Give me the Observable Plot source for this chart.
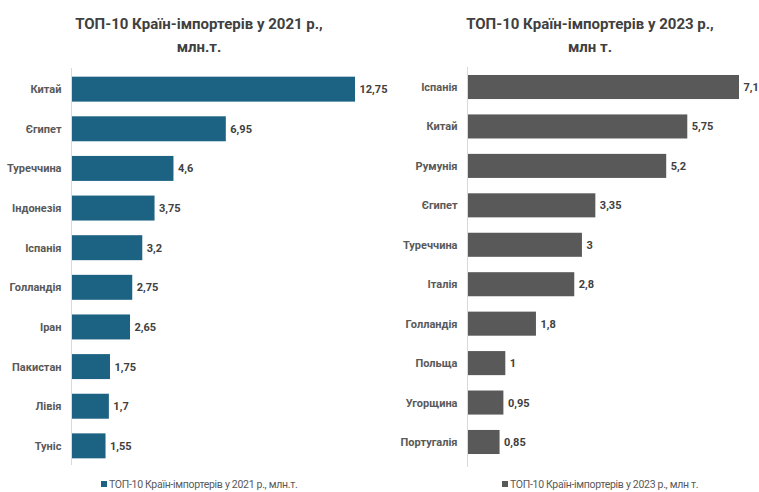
<!DOCTYPE html>
<html>
<head>
<meta charset="utf-8">
<script src="https://cdn.jsdelivr.net/npm/d3@7"></script>
<script src="https://cdn.jsdelivr.net/npm/@observablehq/plot@0.6"></script>
<style>
  body { margin: 0; background: #fff; font-family: Roboto, "Noto Sans", sans-serif; }
  #wrap { position: relative; width: 759px; height: 492px; overflow: hidden; background: #fff; }
  .title { position: absolute; text-align: center; font-weight: bold; font-size: 15px; color: #404040; line-height: 23px; letter-spacing: 0px; }
  .panel { position: absolute; line-height: 0; }
  .panel svg { overflow: visible; }
  .legend { position: absolute; font-size: 10.5px; color: #595959; letter-spacing: -0.3px; white-space: nowrap; }
  .legend .sw { display: inline-block; width: 6px; height: 6px; margin-right: 2px; vertical-align: 1px; }
</style>
</head>
<body>
<div id="wrap">
  <div class="title" style="left:9px; top:13px; width:380px;">ТОП-10 Країн-імпортерів у 2021 р.,<br>млн.т.</div>
  <div class="title" style="left:400px; top:13px; width:380px;">ТОП-10 Країн-імпортерів у 2023 р.,<br>млн т.</div>
  <div class="panel" id="left" style="left:0px; top:62px;"></div>
  <div class="panel" id="right" style="left:380px; top:62px;"></div>
  <div class="legend" style="left:101px; top:478px;"><span class="sw" style="background:#1c6283"></span>ТОП-10 Країн-імпортерів у 2021 р., млн.т.</div>
  <div class="legend" style="left:502px; top:478px;"><span class="sw" style="background:#595959"></span>ТОП-10 Країн-імпортерів у 2023 р., млн т.</div>
</div>
<script>
const countries2021 = ["Китай", "Єгипет", "Туреччина", "Індонезія", "Іспанія", "Голландія", "Іран", "Пакистан", "Лівія", "Туніс"];
const values2021 = [12.75, 6.95, 4.6, 3.75, 3.2, 2.75, 2.65, 1.75, 1.7, 1.55];
const countries2023 = ["Іспанія", "Китай", "Румунія", "Єгипет", "Туреччина", "Італія", "Голландія", "Польща", "Угорщина", "Португалія"];
const values2023 = [7.1, 5.75, 5.2, 3.35, 3, 2.8, 1.8, 1, 0.95, 0.85];

const fmt = v => String(v).replace(".", ",");

function panel(countries, values, color, opts) {
  const data = countries.map((c, i) => ({c, v: values[i]}));
  return Plot.plot({
    width: opts.width,
    height: 410,
    marginLeft: opts.marginLeft,
    marginRight: opts.marginRight,
    marginTop: opts.marginTop,
    marginBottom: opts.marginBottom,
    style: {fontFamily: "Roboto, sans-serif", fontSize: "11px", background: "transparent", overflow: "visible"},
    x: {domain: [0, d3.max(values)], axis: null},
    y: {domain: countries, range: opts.yRange, padding: opts.padding, round: false, label: null},
    marks: [
      Plot.barX(data, {x: "v", y: "c", fill: color}),
      Plot.ruleX([0], {stroke: "#d9d9d9", strokeWidth: 1}),
      Plot.text(data, {x: "v", y: "c", text: d => fmt(d.v), dx: 4, textAnchor: "start", fontWeight: "bold", fill: "#404040", fontSize: 11}),
      Plot.axisY({tickSize: 0, tickPadding: 10, fontWeight: "bold", fill: "#595959", fontSize: 11, label: null})
    ]
  });
}

document.getElementById("left").append(panel(countries2021, values2021, "#1c6283",
  {width: 380, marginLeft: 71, marginRight: 25, marginTop: 6, marginBottom: 7, yRange: [0, 411], padding: 0.37}));
document.getElementById("right").append(panel(countries2023, values2023, "#595959",
  {width: 379, marginLeft: 87, marginRight: 20, marginTop: 5, marginBottom: 5, yRange: [-2.4, 407.4], padding: 0.39}));
</script>
</body>
</html>
